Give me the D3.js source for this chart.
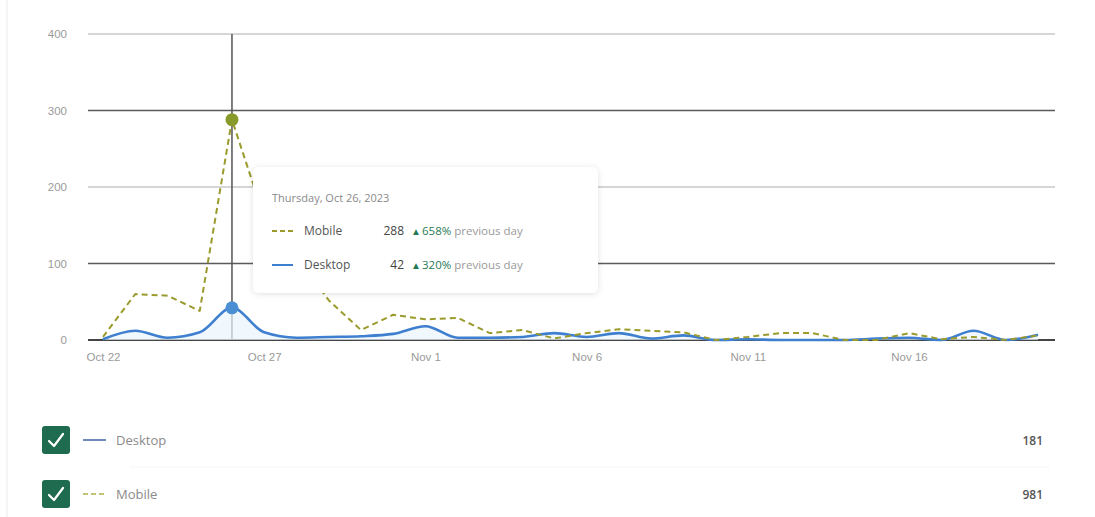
<!DOCTYPE html>
<html>
<head>
<meta charset="utf-8">
<script src="https://cdn.jsdelivr.net/npm/d3@7"></script>
<style>
  html, body { margin: 0; padding: 0; background: #fff; }
  svg { display: block; font-family: "Open Sans", "Noto Sans", sans-serif; }
</style>
</head>
<body>
<svg id="chart" width="1095" height="517"></svg>
<script>
// ---- data ----
const dates = [
  "2023-10-22","2023-10-23","2023-10-24","2023-10-25","2023-10-26","2023-10-27","2023-10-28",
  "2023-10-29","2023-10-30","2023-10-31","2023-11-01","2023-11-02","2023-11-03","2023-11-04",
  "2023-11-05","2023-11-06","2023-11-07","2023-11-08","2023-11-09","2023-11-10","2023-11-11",
  "2023-11-12","2023-11-13","2023-11-14","2023-11-15","2023-11-16","2023-11-17","2023-11-18",
  "2023-11-19","2023-11-20"
];
const mobile = [4,60,58,38,288,160,108,52,13,33,27,29,9,13,2,9,14,12,10,0,4,9,9,0,0,9,1,4,0,6];
const desktop = [1,12,3,10,42,10,3,4,5,8,18,3,3,4,9,4,9,2,6,0,1,0,0,0,2,3,0,12,0,7];
const yTicks = [0,100,200,300,400];
const xTickDates = ["2023-10-22","2023-10-27","2023-11-01","2023-11-06","2023-11-11","2023-11-16"];
const legendItems = ["Desktop","Mobile"];
const legendTotals = [181, 981];
const tooltipDate = "Thursday, Oct 26, 2023";
const tooltipRows = [
  { name: "Mobile", value: 288, change: "658%" },
  { name: "Desktop", value: 42, change: "320%" }
];
const hoverIndex = 4;

// ---- setup ----
const parse = d3.utcParse("%Y-%m-%d");
const dts = dates.map(parse);
const svg = d3.select("#chart");
const x = d3.scaleUtc().domain([dts[0], dts[dts.length-1]]).range([103, 1038]);
const y = d3.scaleLinear().domain([0, 400]).range([340, 34]);

const MOB = "#9a9b2c", DESK = "#3f7fcf";

// left faint border
svg.append("line").attr("x1",7).attr("x2",7).attr("y1",0).attr("y2",517)
  .attr("stroke","#ececec").attr("stroke-width",1);

// gridlines
const gridColor = v => (v === 0 ? "#444" : (v === 100 || v === 300) ? "#5a5a5a" : "#c8c8c8");
const yAxis = d3.axisLeft(y).tickValues(yTicks).tickSize(0).tickPadding(0);
const gy = svg.append("g").attr("transform","translate(67,0)").call(yAxis);
gy.select(".domain").remove();
gy.selectAll("text").attr("fill","#9a9a9a").attr("font-size",11.5);

svg.append("g").selectAll("line").data(yTicks).join("line")
  .attr("x1",88).attr("x2",1055)
  .attr("y1",d=>y(d)).attr("y2",d=>y(d))
  .attr("stroke",d=>gridColor(d))
  .attr("stroke-width",d=> d===0 ? 2 : 1.5);

// x axis labels
const xAxis = d3.axisBottom(x).tickValues(xTickDates.map(parse))
  .tickFormat(d3.utcFormat("%b %-d")).tickSize(0).tickPadding(0);
const gx = svg.append("g").attr("transform","translate(0,353)").call(xAxis);
gx.select(".domain").remove();
gx.selectAll("text").attr("fill","#9a9a9a").attr("font-size",11.5);

// crosshair
svg.append("line").attr("x1",x(dts[hoverIndex])).attr("x2",x(dts[hoverIndex]))
  .attr("y1",y(400)).attr("y2",y(0)).attr("stroke","#555").attr("stroke-width",1.5);

// subtle glow under desktop
const area = vals => d3.area().x((d,i)=>x(dts[i])).y0(y(0)).y1((d,i)=>y(vals[i])).curve(d3.curveMonotoneX);
svg.append("path").datum(desktop).attr("d",area(desktop)).attr("fill","#eaf3fc").attr("opacity",0.7);

const lineSmooth = vals => d3.line().x((d,i)=>x(dts[i])).y((d,i)=>y(vals[i])).curve(d3.curveMonotoneX);
const lineStraight = vals => d3.line().x((d,i)=>x(dts[i])).y((d,i)=>y(vals[i]));

svg.append("path").datum(desktop).attr("d",lineSmooth(desktop))
  .attr("fill","none").attr("stroke",DESK).attr("stroke-width",2.6);
svg.append("path").datum(mobile).attr("d",lineStraight(mobile))
  .attr("fill","none").attr("stroke",MOB).attr("stroke-width",2).attr("stroke-dasharray","6,4")
  .attr("stroke-linejoin","round");

// hover points
svg.append("circle").attr("cx",x(dts[hoverIndex])).attr("cy",y(mobile[hoverIndex])).attr("r",6.5).attr("fill","#879a2a");
svg.append("circle").attr("cx",x(dts[hoverIndex])).attr("cy",y(desktop[hoverIndex])).attr("r",6.5).attr("fill","#4a8fd3");

// tooltip
const defs = svg.append("defs");
const f = defs.append("filter").attr("id","sh").attr("x","-10%").attr("y","-20%").attr("width","120%").attr("height","150%");
f.append("feDropShadow").attr("dx",0).attr("dy",1).attr("stdDeviation",3).attr("flood-color","#000").attr("flood-opacity",0.12);

const tt = svg.append("g").attr("transform","translate(253,167)");
tt.append("rect").attr("width",345).attr("height",126).attr("rx",6).attr("fill","#fff").attr("filter","url(#sh)");
tt.append("text").attr("x",19).attr("y",35).attr("fill","#8a8a8a").attr("font-size",11).text(tooltipDate);
tooltipRows.forEach((r,i) => {
  const cy = 64 + i*34;
  const isMob = r.name === "Mobile";
  tt.append("line").attr("x1",19).attr("x2",40).attr("y1",cy).attr("y2",cy)
    .attr("stroke", isMob ? MOB : DESK).attr("stroke-width",2)
    .attr("stroke-dasharray", isMob ? "5,3" : null);
  tt.append("text").attr("x",51).attr("y",cy+4).attr("fill","#555").attr("font-size",12).text(r.name);
  tt.append("text").attr("x",151).attr("y",cy+4).attr("text-anchor","end").attr("fill","#444").attr("font-size",12).text(r.value);
  tt.append("text").attr("x",158).attr("y",cy+4).attr("fill","#1f7a55").attr("font-size",10).text("▲");
  const t = tt.append("text").attr("x",169).attr("y",cy+4).attr("font-size",11.5);
  t.append("tspan").attr("fill","#1f7a55").text(r.change);
  t.append("tspan").attr("fill","#9a9a9a").text(" previous day");
});

// legend
svg.append("line").attr("x1",130).attr("x2",1050).attr("y1",467).attr("y2",467).attr("stroke","#f6f6f6");
legendItems.forEach((name,i) => {
  const cy = 440 + i*54;
  const isMob = name === "Mobile";
  svg.append("rect").attr("x",42).attr("y",cy-14).attr("width",28).attr("height",28).attr("rx",3).attr("fill","#1e6b50");
  svg.append("path").attr("d",`M${49},${cy+1} L${54},${cy+6} L${63},${cy-6}`)
    .attr("fill","none").attr("stroke","#fff").attr("stroke-width",2.2).attr("stroke-linecap","round").attr("stroke-linejoin","round");
  svg.append("line").attr("x1",83).attr("x2",106).attr("y1",cy).attr("y2",cy)
    .attr("stroke", isMob ? "#b5b04a" : "#4a6fa8").attr("stroke-width",1.6)
    .attr("stroke-dasharray", isMob ? "5,3" : null);
  svg.append("text").attr("x",116).attr("y",cy+5).attr("fill","#8a8a8a").attr("font-size",13).text(name);
  svg.append("text").attr("x",1043).attr("y",cy+5).attr("text-anchor","end").attr("fill","#555").attr("font-size",12).attr("font-weight",600).text(legendTotals[i]);
});
</script>
</body>
</html>
